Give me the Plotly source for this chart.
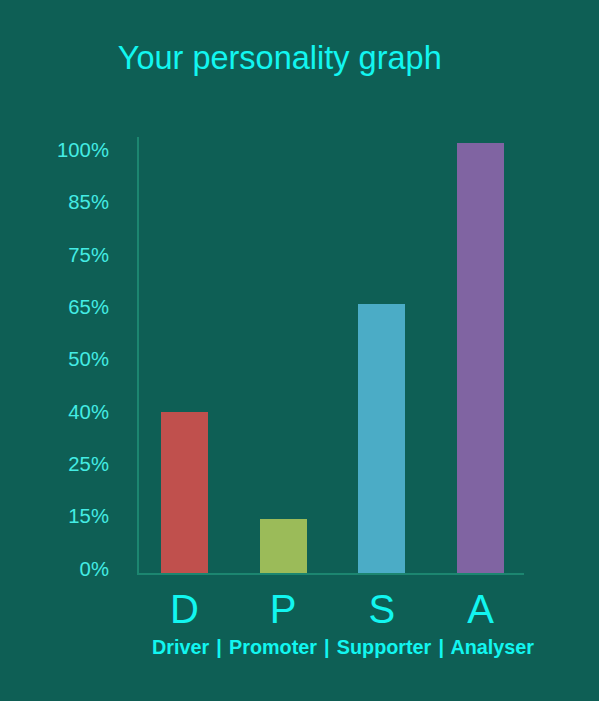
import plotly.graph_objects as go

categories = ["D", "P", "S", "A"]
# bar heights in tick-step units (each step = one tick label interval)
values = [3.08, 1.04, 5.14, 8.22]
bar_colors = ["#c0504d", "#9bbb59", "#4bacc6", "#8064a2"]
tick_labels = ["0%", "15%", "25%", "40%", "50%", "65%", "75%", "85%", "100%"]
subtitle_parts = ["Driver", "Promoter", "Supporter", "Analyser"]
title_text = "Your personality graph"

BG = "#0e5f55"
TXT = "#12f6f0"
TICK = "#44ece4"
AX = "#1c8670"

x_idx = list(range(len(categories)))
tick_vals = [k + 0.086 for k in range(len(tick_labels))]
subtitle = " \u200a|\u200a ".join(subtitle_parts)

fig = go.Figure()
fig.add_trace(go.Bar(
    x=x_idx, y=values, marker=dict(color=bar_colors, line=dict(width=0)),
    width=0.476, hoverinfo="skip",
))

fig.update_layout(
    width=599, height=701,
    paper_bgcolor=BG, plot_bgcolor=BG,
    margin=dict(l=139, r=75, t=137, b=128),
    showlegend=False,
    font=dict(family="Liberation Sans, Arial, sans-serif", color=TXT),
    title=dict(text=title_text, x=0.467, xanchor="center", y=1 - 58 / 701, yanchor="middle",
               font=dict(size=32.5, color=TXT)),
    bargap=0,
)
fig.update_xaxes(
    range=[-0.46, 3.44], tickvals=x_idx, ticktext=categories,
    tickfont=dict(size=40, color=TXT), ticks="", showgrid=False, zeroline=False,
    showline=True, linecolor=AX, linewidth=2, ticklabelstandoff=0,
)
fig.update_yaxes(
    range=[0, 8.33], tickvals=tick_vals, ticktext=tick_labels,
    tickfont=dict(size=20.3, color=TICK), ticks="", showgrid=False, zeroline=False,
    showline=True, linecolor=AX, linewidth=2, ticklabelstandoff=24,
)
fig.add_annotation(
    text="<b>" + subtitle + "</b>", xref="paper", yref="paper",
    x=(342.5 - 139) / 385, y=(701 - 128 - 647) / (701 - 137 - 128), xanchor="center", yanchor="middle",
    showarrow=False, font=dict(size=19.8, color=TXT),
)

fig.write_html("out.html", config={"displayModeBar": False},
               post_script="document.body.style.margin='0';")
